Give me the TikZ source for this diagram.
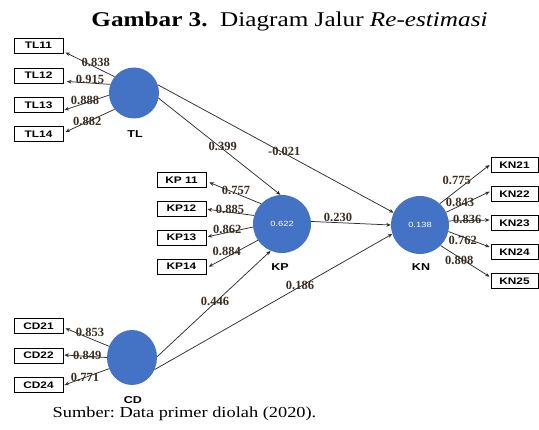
\documentclass[tikz,border=0pt]{standalone}
\usepackage{fontspec}
\setmainfont{Liberation Serif}
\newfontfamily\widesans[FakeStretch=1.25]{Liberation Sans}
\newfontfamily\wideserif[FakeStretch=1.2]{Liberation Serif}
\usetikzlibrary{arrows.meta,shapes.geometric}
\frenchspacing

\definecolor{lvblue}{HTML}{4472C4}
\definecolor{linec}{HTML}{2E2E2E}
\definecolor{lblc}{HTML}{3A2D22}

\tikzset{
  ind/.style={draw=black, line width=0.9pt, minimum width=49pt, minimum height=15pt,
    inner sep=0pt, font=\widesans\bfseries\fontsize{9.5}{9.5}\selectfont},
  lv/.style={ellipse, fill=lvblue, draw=none, inner sep=0pt, text=white,
    font=\widesans\fontsize{7.5}{7.5}\selectfont},
  lvname/.style={font=\widesans\bfseries\fontsize{10}{10}\selectfont, inner sep=0pt},
  coef/.style={font=\bfseries\fontsize{12.5}{12.5}\selectfont, text=lblc, inner sep=0pt},
  arr/.style={-{Stealth[length=4.5pt,width=3.8pt]}, draw=linec, line width=0.75pt}
}

\begin{document}
\begin{tikzpicture}[x=1pt,y=-1pt]
\useasboundingbox (0,0) rectangle (539,430);

% title and source line
\node[anchor=base, inner sep=0pt, font=\wideserif\fontsize{21}{21}\selectfont] (title) at (289.5,27)
  {\textbf{Gambar 3.}\ \ Diagram Jalur \textit{Re-estimasi}};
\node[anchor=base west, inner sep=0pt, font=\wideserif\fontsize{15.3}{15.3}\selectfont] (source) at (52.5,417.3)
  {Sumber: Data primer diolah (2020).};

% latent variables
\node[lv, minimum width=50pt, minimum height=51pt] (TL) at (134,93) {};
\node[lv, minimum width=58pt, minimum height=58pt] (KP) at (282,224) {0.622};
\node[lv, minimum width=58pt, minimum height=58pt] (KN) at (420,225) {0.138};
\node[lv, minimum width=50pt, minimum height=55pt] (CD) at (132,357.5) {};

\node[lvname] (TLn) at (135,134) {TL};
\node[lvname] (KPn) at (280,267) {KP};
\node[lvname] (KNn) at (421,267) {KN};
\node[lvname] (CDn) at (133,400) {CD};

% indicators
\node[ind] (tl11) at (38.5,45.5) {TL11};
\node[ind] (tl12) at (38.5,75.5) {TL12};
\node[ind] (tl13) at (38.5,105) {TL13};
\node[ind] (tl14) at (38.5,134) {TL14};

\node[ind] (kp11) at (181.5,180) {KP 11};
\node[ind] (kp12) at (181.5,208.5) {KP12};
\node[ind] (kp13) at (181.5,237.5) {KP13};
\node[ind] (kp14) at (181.5,266.5) {KP14};

\node[ind, minimum width=47pt] (kn21) at (514.5,165) {KN21};
\node[ind, minimum width=47pt] (kn22) at (514.5,194) {KN22};
\node[ind, minimum width=47pt] (kn23) at (514.5,223) {KN23};
\node[ind, minimum width=47pt] (kn24) at (514.5,252) {KN24};
\node[ind, minimum width=47pt] (kn25) at (514.5,281) {KN25};

\node[ind] (cd21) at (38.5,326) {CD21};
\node[ind] (cd22) at (38.5,355.5) {CD22};
\node[ind] (cd24) at (38.5,385) {CD24};

% outer loadings
\draw[arr] (TL.140) -- ([shift={(2,7)}]tl11.east);
\draw[arr] (TL.160) -- ([shift={(3.5,6)}]tl12.east);
\draw[arr] (TL.185) -- ([shift={(1,5)}]tl13.east);
\draw[arr] (TL.220) -- ([shift={(2,-2)}]tl14.east);

\draw[arr] (KP.136) -- ([shift={(3,2.5)}]kp11.east);
\draw[arr] (KP.163) -- ([shift={(1,0.8)}]kp12.east);
\draw[arr] (KP.186) -- ([shift={(1.3,-0.8)}]kp13.east);
\draw[arr] (KP.214) -- ([shift={(2.3,0.2)}]kp14.east);

\draw[arr] (KN.47)  -- ([shift={(-1,0)}]kn21.west);
\draw[arr] (KN.26)  -- ([shift={(-1,-2.3)}]kn22.west);
\draw[arr] (KN.8)   -- ([shift={(-1,-3)}]kn23.west);
\draw[arr] (KN.-13) -- ([shift={(-1,-5)}]kn24.west);
\draw[arr] (KN.-45) -- ([shift={(-1,-4.3)}]kn25.west);

\draw[arr] (CD.154) -- ([shift={(2,2.3)}]cd21.east);
\draw[arr] (CD.180) -- ([shift={(1,-0.5)}]cd22.east);
\draw[arr] (CD.206) -- ([shift={(1,0)}]cd24.east);

% structural paths
\draw[arr] (TL.-12) -- (KP.93);
\draw[arr] (TL.19)  -- (KN.155);
\draw[arr] (KP.5)   -- (KN.180);
\draw[arr] (CD.2)   -- (KP.247);
\draw[arr] (CD.-28) -- (KN.198);

% coefficients
\node[coef] (c1)  at (95.7,62.3)  {0.838};
\node[coef] (c2)  at (90,79.3)    {0.915};
\node[coef] (c3)  at (85,100.7)   {0.888};
\node[coef] (c4)  at (87.3,121.7) {0.882};

\node[coef] (c5)  at (236,190.7)  {0.757};
\node[coef] (c6)  at (230,209.3)  {0.885};
\node[coef] (c7)  at (227.3,229.3){0.862};
\node[coef] (c8)  at (226.7,251.7){0.884};

\node[coef] (c9)  at (456.7,180.7){0.775};
\node[coef] (c10) at (460,202.3)  {0.843};
\node[coef] (c11) at (467.3,219.3){0.836};
\node[coef] (c12) at (462.7,240)  {0.762};
\node[coef] (c13) at (459.3,260)  {0.808};

\node[coef] (c14) at (90,332.3)   {0.853};
\node[coef] (c15) at (87.3,355)   {0.849};
\node[coef] (c16) at (85,377.3)   {0.771};

\node[coef] (c17) at (222.7,146)  {0.399};
\node[coef] (c18) at (284.3,151.7){-0.021};
\node[coef] (c19) at (338,217)    {0.230};
\node[coef] (c20) at (215,301)    {0.446};
\node[coef] (c21) at (300,285)    {0.186};
\end{tikzpicture}
\end{document}
